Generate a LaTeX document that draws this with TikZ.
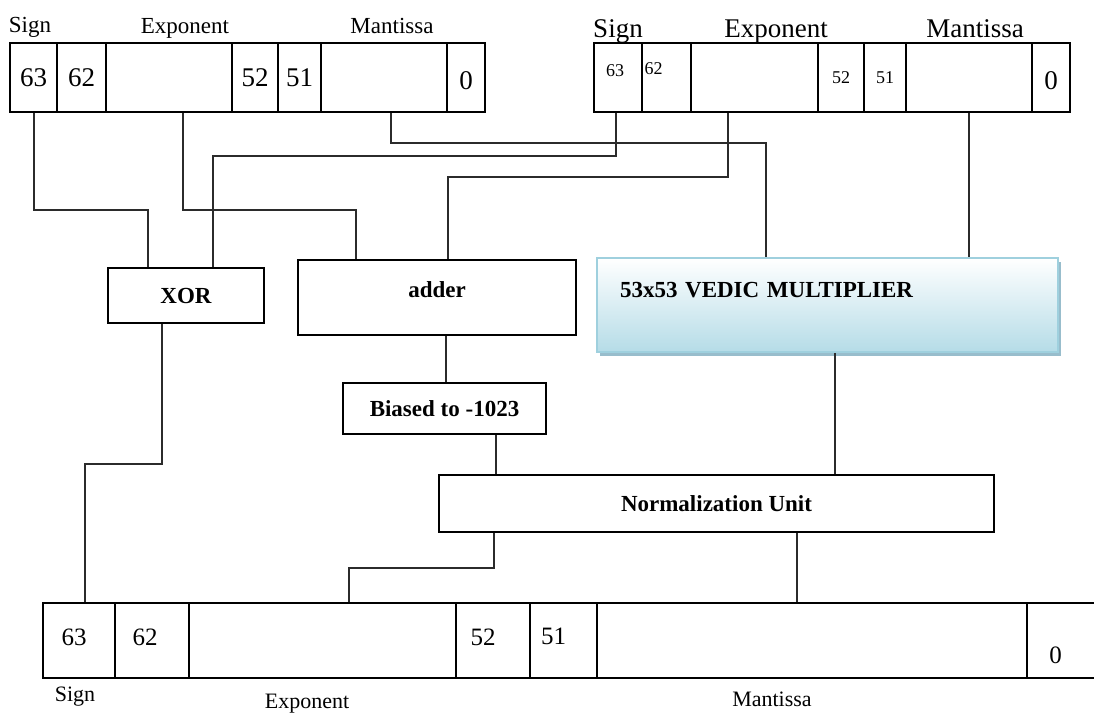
\documentclass[tikz,border=0pt]{standalone}
\usepackage{fontspec}
\setmainfont{Liberation Serif}
\usetikzlibrary{positioning, calc, shadows}

\definecolor{vedblue}{HTML}{B5DCE7}
\definecolor{vededge}{HTML}{9FD0DE}
\definecolor{vedshadow}{HTML}{8DB6C6}
\definecolor{wire}{HTML}{2B2B2B}

\begin{document}
\begin{tikzpicture}[x=1pt, y=-1pt, line width=1.8pt,
    cell/.style={draw, inner sep=0pt, minimum height=69pt, font=\fontsize{27}{29}\selectfont},
    rcell/.style={cell, font=\fontsize{18}{20}\selectfont},
    bcell/.style={draw, inner sep=0pt, minimum height=75pt},
    bnum/.style={font=\fontsize{25}{27}\selectfont},
    blk/.style={draw, inner sep=0pt, font=\fontsize{23}{25}\selectfont\bfseries},
    wires/.style={draw=wire, line width=2pt}]

    \useasboundingbox (0,0) rectangle (1094,713);

    % Input A (left register)
    \node[font=\fontsize{23}{25}\selectfont, anchor=base] (lsign) at (30,32) {Sign};
    \node[font=\fontsize{23}{25}\selectfont, anchor=base] (lexpt) at (185,33) {Exponent};
    \node[font=\fontsize{23}{25}\selectfont, anchor=base] (lmant) at (392,33) {Mantissa};
    \node[cell, minimum width=47pt] (l63) at (33.5,77.5) {63};
    \node[cell, minimum width=49pt] (l62) at (81.5,77.5) {62};
    \node[cell, minimum width=126pt] (lexp) at (169,77.5) {};
    \node[cell, minimum width=46pt] (l52) at (255,77.5) {52};
    \node[cell, minimum width=43pt] (l51) at (299.5,77.5) {51};
    \node[cell, minimum width=126pt] (lman) at (384,77.5) {};
    \node[cell, minimum width=38pt, label={[yshift=-3pt, font=\fontsize{27}{29}\selectfont]center:0}] (l0) at (466,77.5) {};

    % Input B (right register)
    \node[font=\fontsize{27}{29}\selectfont, anchor=base] (rsign) at (618,37) {Sign};
    \node[font=\fontsize{27}{29}\selectfont, anchor=base] (rexpt) at (776,37) {Exponent};
    \node[font=\fontsize{27}{29}\selectfont, anchor=base] (rmant) at (975,37) {Mantissa};
    \node[rcell, minimum width=48pt, label={[xshift=-3pt, yshift=7pt, font=\fontsize{18}{20}\selectfont]center:63}] (r63) at (618,77.5) {};
    \node[rcell, minimum width=49pt, label={[xshift=-13pt, yshift=9pt, font=\fontsize{18}{20}\selectfont]center:62}] (r62) at (666.5,77.5) {};
    \node[rcell, minimum width=127pt] (rexp) at (754.5,77.5) {};
    \node[rcell, minimum width=46pt] (r52) at (841,77.5) {52};
    \node[rcell, minimum width=42pt] (r51) at (885,77.5) {51};
    \node[rcell, minimum width=126pt] (rman) at (969,77.5) {};
    \node[cell, minimum width=38pt, label={[yshift=-3pt, font=\fontsize{27}{29}\selectfont]center:0}] (r0) at (1051,77.5) {};

    % Processing blocks
    \node[blk, minimum width=156pt, minimum height=55pt] (xor) at (186,295.5) {XOR};
    \node[blk, minimum width=278pt, minimum height=75pt] (add) at (437,297.5) {\raisebox{0pt}[0pt][0pt]{adder}};
    \node[blk, draw=vededge, top color=white, bottom color=vedblue, text width=415pt, inner xsep=23pt, align=left,
        minimum height=94pt, drop shadow={shadow xshift=3pt, shadow yshift=-4pt, fill=vedshadow, opacity=0.9}]
        (mult) at (827.5,305) {\raisebox{8pt}[0pt][0pt]{53x53 VEDIC MULTIPLIER}};
    \node[blk, minimum width=203pt, minimum height=51pt] (bias) at (444.5,408.5) {Biased to -1023};
    \node[blk, minimum width=555pt, minimum height=57pt] (norm) at (716.5,503.5) {Normalization Unit};

    % Output register
    \node[bcell, minimum width=72pt, label={[bnum, xshift=-5pt, yshift=3pt]center:63}] (b63) at (79,640.5) {};
    \node[bcell, minimum width=74pt, label={[bnum, xshift=-7pt, yshift=3pt]center:62}] (b62) at (152,640.5) {};
    \node[bcell, minimum width=267pt] (bexp) at (322.5,640.5) {};
    \node[bcell, minimum width=74pt, label={[bnum, xshift=-10pt, yshift=3pt]center:52}] (b52) at (493,640.5) {};
    \node[bcell, minimum width=67pt, label={[bnum, xshift=-10pt, yshift=4pt]center:51}] (b51) at (563.5,640.5) {};
    \node[bcell, minimum width=430pt] (bman) at (812,640.5) {};
    \node[inner sep=0pt, outer sep=0pt, minimum height=75pt, minimum width=67pt, label={[bnum, xshift=-5pt, yshift=-15pt]center:0}] (b0) at (1060.5,640.5) {};
    \draw (b0.north west) -- (b0.north east) (b0.south west) -- (b0.south east);
    \node[font=\fontsize{22}{24}\selectfont, anchor=base] (bsign) at (75,701) {Sign};
    \node[font=\fontsize{22}{24}\selectfont, anchor=base] (bexpt) at (307,708) {Exponent};
    \node[font=\fontsize{22}{24}\selectfont, anchor=base] (bmant) at (772,706) {Mantissa};

    % Wires from the inputs
    \draw[wires] (l63.south) -- ++(0,97) -| ([xshift=-38pt]xor.north);
    \draw[wires] ([xshift=14pt]lexp.south) -- ++(0,97) -| ([xshift=-81pt]add.north);
    \draw[wires] ([xshift=7pt]lman.south) -- ++(0,30) -| ([xshift=-61.5pt]mult.north);
    \draw[wires] ([xshift=-2pt]r63.south) -- ++(0,43) -| ([xshift=27pt]xor.north);
    \draw[wires] ([xshift=-26.5pt]rexp.south) -- ++(0,64) -| ([xshift=11pt]add.north);
    \draw[wires] (rman.south) -- (rman.south |- mult.north);

    % Wires to the output
    \draw[wires] ([xshift=-24.5pt]xor.south) -- ++(0,140) -| ([xshift=6pt]b63.north);
    \draw[wires] ([xshift=9pt]add.south) -- ([xshift=9pt]add.south |- bias.north);
    \draw[wires] ([xshift=51.5pt]bias.south) -- ([xshift=51.5pt]bias.south |- norm.north);
    \draw[wires] ([xshift=7.5pt]mult.south) -- ([xshift=7.5pt]mult.south |- norm.north);
    \draw[wires] ([xshift=-222.5pt]norm.south) -- ++(0,35) -| ([xshift=26.5pt]bexp.north);
    \draw[wires] ([xshift=80.5pt]norm.south) -- ([xshift=80.5pt]norm.south |- bman.north);
\end{tikzpicture}
\end{document}
